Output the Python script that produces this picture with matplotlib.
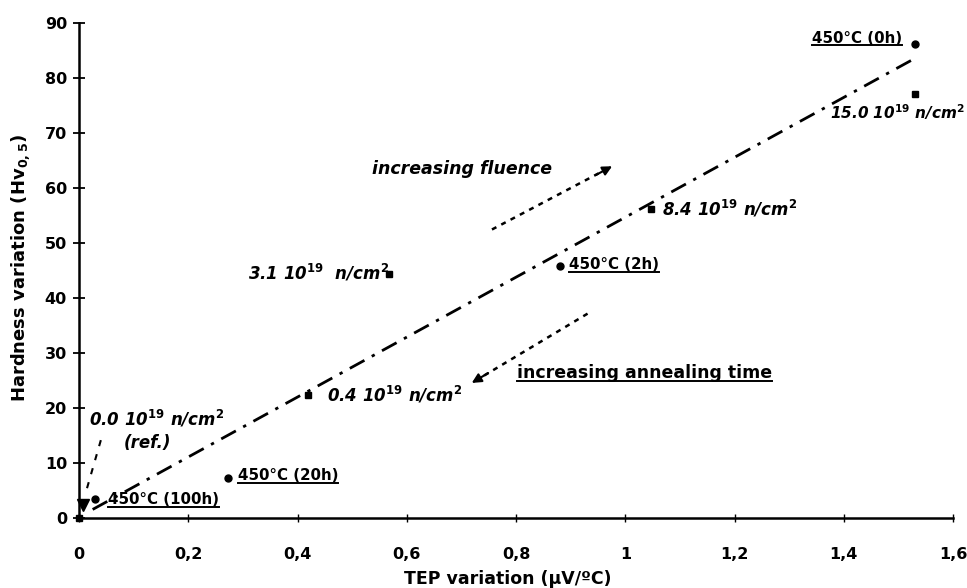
import matplotlib
matplotlib.use("Agg")
import matplotlib.pyplot as plt
from matplotlib.lines import Line2D

# ---- data ----
fluence_x = [0.0, 0.42, 0.568, 1.047, 1.53]
fluence_y = [0.0, 22.3, 44.4, 56.1, 77.0]
fluence_labels = [r"0.0 10$^{19}$ n/cm$^{2}$", r"0.4 10$^{19}$ n/cm$^{2}$",
                  r"3.1 10$^{19}$  n/cm$^{2}$", r"8.4 10$^{19}$ n/cm$^{2}$",
                  r"15.0 10$^{19}$ n/cm$^{2}$"]

anneal_x = [1.53, 0.881, 0.272, 0.029]
anneal_y = [86.1, 45.8, 7.2, 3.4]
anneal_labels = ["450°C (0h)", "450°C (2h)", "450°C (20h)", "450°C (100h)"]

ref_x = [0.008]
ref_y = [2.3]

fit_x = [0.025, 1.53]
fit_y = [1.5, 83.5]

leader_x = [0.040, 0.011]
leader_y = [14.1, 4.1]

fluence_arrow_x = [0.756, 0.976]
fluence_arrow_y = [52.4, 63.9]
anneal_arrow_x = [0.931, 0.719]
anneal_arrow_y = [37.1, 24.5]

xticks = [0, 0.2, 0.4, 0.6, 0.8, 1.0, 1.2, 1.4, 1.6]
xticklabels = ["0", "0,2", "0,4", "0,6", "0,8", "1", "1,2", "1,4", "1,6"]
yticks = [0, 10, 20, 30, 40, 50, 60, 70, 80, 90]

plt.rcParams['font.family'] = ['DejaVu Sans']
plt.rcParams['font.weight'] = 'bold'
plt.rcParams['mathtext.fontset'] = 'custom'
plt.rcParams['mathtext.it'] = 'DejaVu Sans:italic:bold'
plt.rcParams['mathtext.rm'] = 'DejaVu Sans:bold'
plt.rcParams['mathtext.bf'] = 'DejaVu Sans:bold'
plt.rcParams['mathtext.default'] = 'it'

fig = plt.figure(figsize=(9.67, 5.88), dpi=100)
ax = fig.add_axes([79/967, 1-517.7/588, (953-79)/967, (517.7-22.7)/588])
ax.set_xlim(0, 1.6)
ax.set_ylim(0, 90)

for s in ['top', 'right']:
    ax.spines[s].set_visible(False)
ax.spines['left'].set_linewidth(1.8)
ax.spines['bottom'].set_linewidth(1.8)

ax.set_xticks(xticks)
ax.set_xticklabels(xticklabels)
ax.set_yticks(yticks)
ax.tick_params(axis='y', direction='inout', length=8.6, width=1.3, pad=4.3, labelsize=11.5)
ax.tick_params(axis='x', direction='inout', length=6, width=1.0, pad=18, labelsize=11.5)
for lab in ax.get_xticklabels() + ax.get_yticklabels():
    lab.set_fontweight('bold')

# fit line
ax.plot(fit_x, fit_y, color='black', lw=2.0, linestyle=(0, (6, 3, 1.2, 3)),
        solid_capstyle='butt', zorder=2)
# leader line to ref label
ax.plot(leader_x, leader_y, color='black', lw=1.5, linestyle=(0, (3, 4)), zorder=2)

# markers
ax.plot(fluence_x, fluence_y, 's', color='black', ms=4.5, clip_on=False, zorder=3)
ax.plot(anneal_x, anneal_y, 'o', color='black', ms=5, clip_on=False, zorder=3)
ax.plot(ref_x, ref_y, 'v', color='black', ms=9, clip_on=False, zorder=3)

# arrows
ax.plot(fluence_arrow_x, fluence_arrow_y, color='black', lw=1.8, linestyle=(0, (2, 2.2)))
ax.annotate('', xy=(fluence_arrow_x[1], fluence_arrow_y[1]),
            xytext=(fluence_arrow_x[1] - 0.03, fluence_arrow_y[1] - 1.6),
            arrowprops=dict(arrowstyle='-|>', color='black', lw=1.5,
                            mutation_scale=14, shrinkA=0, shrinkB=0))
ax.plot(anneal_arrow_x, anneal_arrow_y, color='black', lw=1.8, linestyle=(0, (2, 2.2)))
ax.annotate('', xy=(anneal_arrow_x[1], anneal_arrow_y[1]),
            xytext=(anneal_arrow_x[1] + 0.03, anneal_arrow_y[1] + 1.8),
            arrowprops=dict(arrowstyle='-|>', color='black', lw=1.5,
                            mutation_scale=14, shrinkA=0, shrinkB=0))

# fluence labels (bold italic)
fl_pos = [(0.018, 17.9, 12), (0.454, 22.3, 12), (0.309, 44.5, 12),
          (1.068, 56.1, 12), (1.374, 73.8, 11)]
for (x, y, fs), lab in zip(fl_pos, fluence_labels):
    ax.text(x, y, lab, fontsize=fs, fontweight='bold', fontstyle='italic',
            ha='left', va='center', clip_on=False)
ax.text(0.126, 13.6, "(ref.)", fontsize=12, fontweight='bold', fontstyle='italic',
        ha='center', va='center')

# annealing labels (bold, underlined)
an_pos = [(1.342, 87.2), (0.897, 46.0), (0.291, 7.6), (0.053, 3.3)]
underlined = []
for (x, y), lab in zip(an_pos, anneal_labels):
    t = ax.text(x, y, lab, fontsize=10.8, fontweight='bold', ha='left', va='center')
    underlined.append(t)

ax.text(0.866, 63.4, "increasing fluence", fontsize=12.5, fontweight='bold',
        fontstyle='italic', ha='right', va='center')
t = ax.text(0.802, 26.4, "increasing annealing time", fontsize=12.5, fontweight='bold',
            ha='left', va='center')
underlined.append(t)

# axis labels
fig.text(508/967, 1-579/588, "TEP variation (µV/ºC)", fontsize=12.5, fontweight='bold',
         ha='center', va='center')
fig.text(21/967, 1-268/588, r"Hardness variation (Hv$_{\mathbf{0,5}}$)", fontsize=13,
         fontweight='bold', rotation=90, ha='center', va='center')

# underline
fig.canvas.draw()
renderer = fig.canvas.get_renderer()
inv = fig.transFigure.inverted()
for t in underlined:
    bb = t.get_window_extent(renderer)
    (x0, y0), (x1, y1) = inv.transform([[bb.x0, bb.y0], [bb.x1, bb.y1]])
    yy = y0 + 0.5/588
    fig.add_artist(Line2D([x0, x1], [yy, yy], transform=fig.transFigure,
                          color='black', lw=1.4))

fig.savefig("out.png", dpi=100)
